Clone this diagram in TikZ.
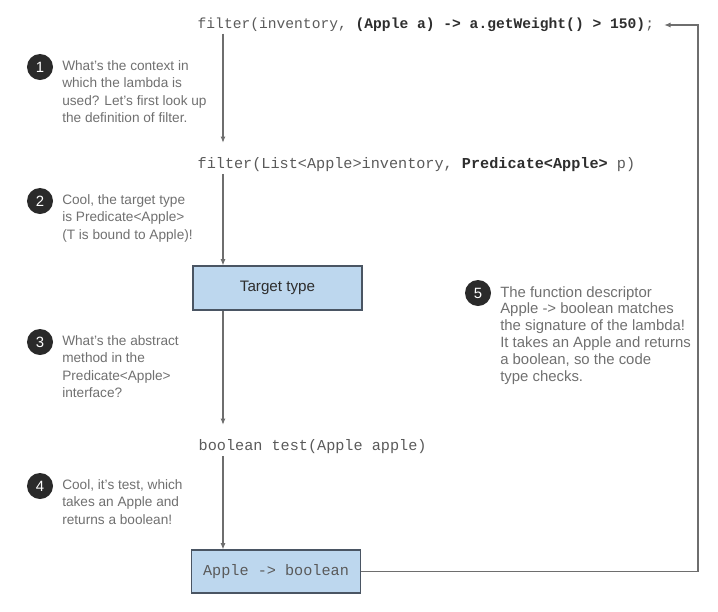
\documentclass[tikz,border=0pt]{standalone}
\usepackage{fontspec}
\setmainfont{Liberation Sans}
\setmonofont{Liberation Mono}
\usetikzlibrary{arrows.meta}
\definecolor{notegray}{HTML}{707070}
\definecolor{codegray}{HTML}{5A5A5A}
\definecolor{codedark}{HTML}{2E2E2E}
\definecolor{linegray}{HTML}{6E6E6E}
\definecolor{boxblue}{HTML}{BDD7EE}
\definecolor{boxline}{HTML}{4A5563}
\definecolor{bullet}{HTML}{2A2A2A}
\tikzset{
  code/.style={anchor=west,inner sep=1pt,text=codegray,font=\ttfamily\fontsize{10.8}{12}\selectfont},
  note/.style={anchor=north west,inner sep=0pt,align=left,text=notegray,font=\fontsize{9.7}{12.4}\selectfont},
  num/.style={circle,fill=bullet,text=white,minimum size=0.65cm,inner sep=0pt,font=\fontsize{10.6}{12}\selectfont},
  typebox/.style={draw=boxline,fill=boxblue,line width=0.8pt,minimum width=4.225cm,minimum height=1.1cm},
  arr/.style={draw=linegray,line width=0.8pt,-{Latex[length=4.5pt,width=3.6pt]}},
  arrtxt/.style={arr,shorten >=9.5pt}
}
\begin{document}
\begin{tikzpicture}[x=0.025cm,y=-0.025cm]
	\useasboundingbox (0,0) rectangle (718,612);
	\coordinate (spine) at (223,0);
	\coordinate (loop) at (698,0);
%	code lines and boxes
	\node[code,font=\ttfamily\fontsize{10.4}{12}\selectfont] (call) at (196,25) {filter(inventory, {\color{codedark}\bfseries (Apple a) -> a.getWeight() > 150)};};
	\node[code] (sig) at (196,165) {filter(List<Apple>inventory, {\color{codedark}\bfseries Predicate<Apple>} p)};
	\node[typebox,font=\fontsize{10.8}{12}\selectfont,text=codedark] (target) at (277.5,288) {Target type};
	\node[code] (test) at (197,447) {boolean test(Apple apple)};
	\node[typebox,minimum height=1.075cm,font=\ttfamily\fontsize{10.8}{12}\selectfont,text=codegray] (desc) at (276,571.5) {Apple -> boolean};
%	
	\draw[arrtxt] (call.south -| spine) -- (sig.north -| spine);
	\draw[arr] (sig.south -| spine) -- (target.north -| spine);
	\draw[arrtxt] (target.south -| spine) -- (test.north -| spine);
	\draw[arr] (test.south -| spine) -- (desc.north -| spine);
	\draw[arr,shorten >=6pt] (desc.east) -- (desc.east -| loop) -- (call.east -| loop) -- (call.east);
%	numbered notes
	\node[num] (n1) at (40,67) {1};
	\node[note] (t1) at (62,60) {What's the context in\\which the lambda is\\used? Let's first look up\\the definition of filter.};
	\node[num] (n2) at (40,201) {2};
	\node[note] (t2) at (62,194) {Cool, the target type\\is Predicate<Apple>\\(T is bound to Apple)!};
	\node[num] (n3) at (40,342) {3};
	\node[note] (t3) at (62,335) {What's the abstract\\method in the\\Predicate<Apple>\\interface?};
	\node[num] (n4) at (40,486) {4};
	\node[note] (t4) at (62,479) {Cool, it's test, which\\takes an Apple and\\returns a boolean!};
	\node[num] (n5) at (478,293) {5};
	\node[note,font=\fontsize{10.6}{12}\selectfont] (t5) at (500,286) {The function descriptor\\Apple -> boolean matches\\the signature of the lambda!\\It takes an Apple and returns\\a boolean, so the code\\type checks.};
\end{tikzpicture}
\end{document}
